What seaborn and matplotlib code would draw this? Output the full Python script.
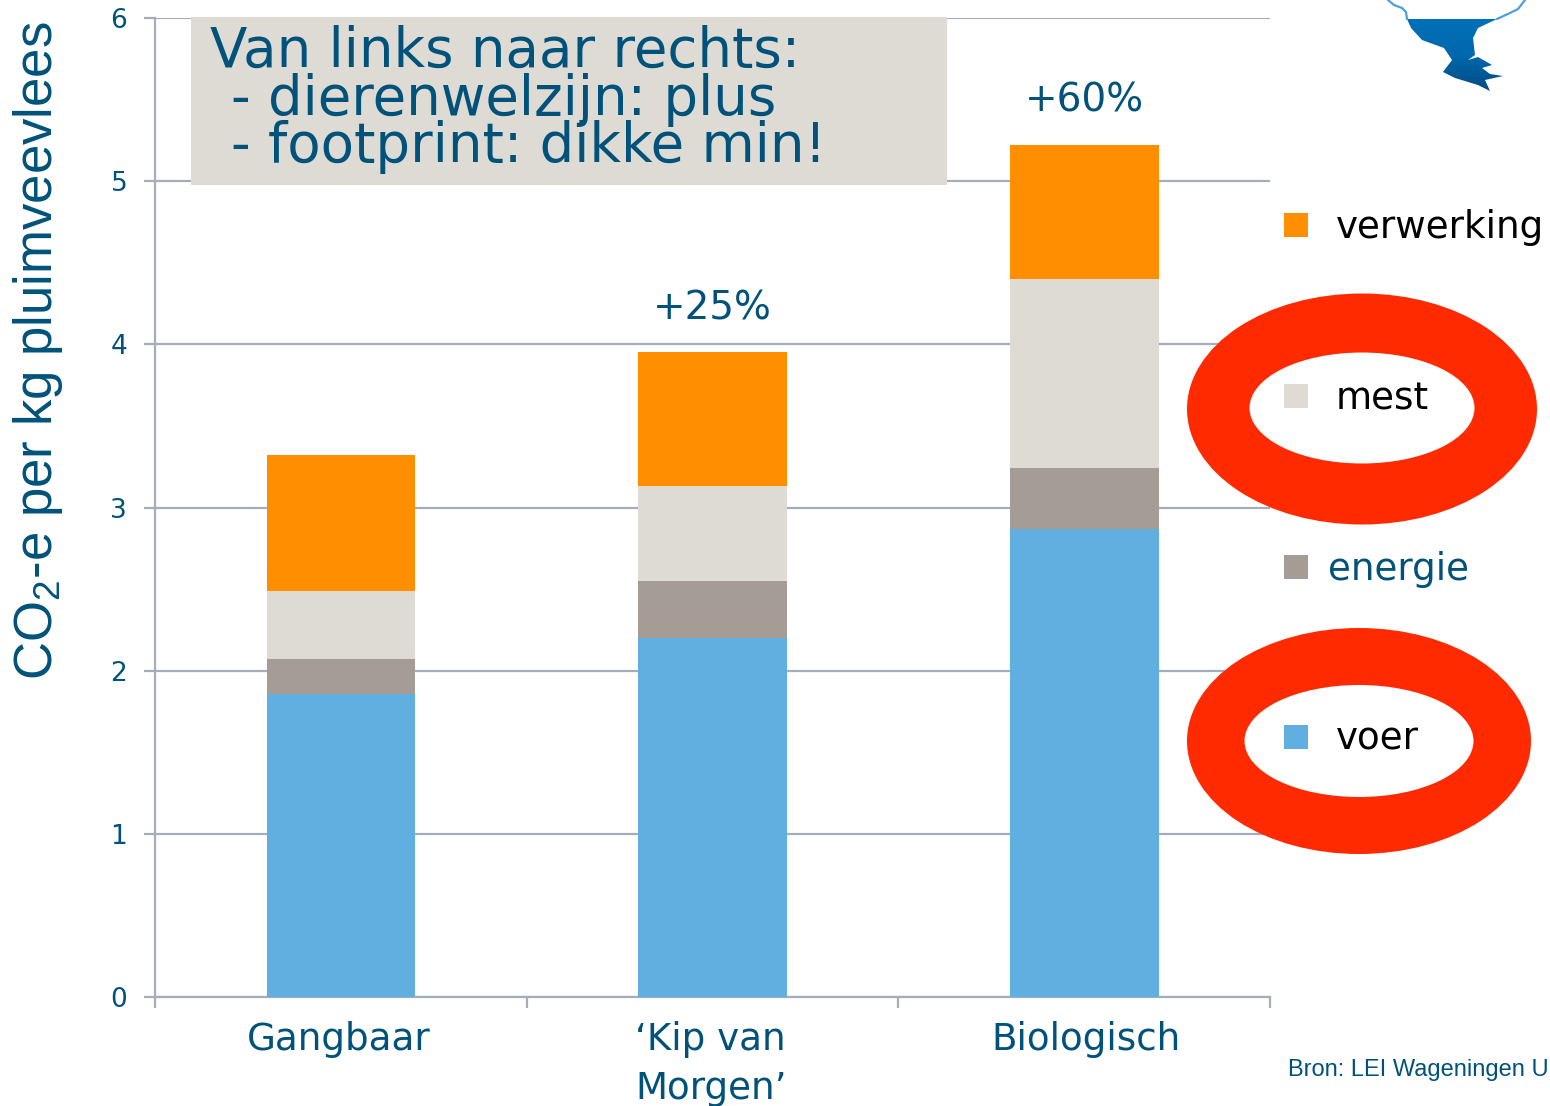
import numpy as np
import pandas as pd
import seaborn as sns
import matplotlib.pyplot as plt
from matplotlib.patches import Ellipse, Rectangle, Polygon

categories = ["Gangbaar", "‘Kip van\nMorgen’", "Biologisch"]
voer = [1.86, 2.20, 2.87]
energie = [0.21, 0.35, 0.37]
mest = [0.42, 0.58, 1.16]
verwerking = [0.83, 0.82, 0.82]
pct_labels = ["", "+25%", "+60%"]
y_ticks = [0, 1, 2, 3, 4, 5, 6]

BLUE = "#61aee0"
BROWN = "#a59c95"
LIGHT = "#dedbd4"
ORANGE = "#ff8f00"
TEAL = "#00527a"
RED = "#ff2a00"
GRID = "#a3aeba"

series = ["voer", "energie", "mest", "verwerking"]
colors = [BLUE, BROWN, LIGHT, ORANGE]

df = pd.DataFrame({"cat": categories, "voer": voer, "energie": energie,
                   "mest": mest, "verwerking": verwerking})

sns.set_theme(style="white")
plt.rcParams["font.family"] = ["DejaVu Sans"]
plt.rcParams["mathtext.fontset"] = "custom"
plt.rcParams["mathtext.rm"] = "Liberation Sans"

fig = plt.figure(figsize=(15.5, 11.06), dpi=100)
ax = fig.add_axes([155 / 1550, 1 - 997 / 1106, (1270 - 155) / 1550, (997 - 18) / 1106])

# stacked bars, one seaborn call per layer
bottom = np.zeros(len(categories))
for name, col in zip(series, colors):
    sns.barplot(data=df, x="cat", y=name, ax=ax, color=col, bottom=bottom,
                width=0.4, saturation=1, zorder=3, errorbar=None, linewidth=0)
    bottom = bottom + df[name].values

ax.set_xlim(-0.5, 2.5)
ax.set_ylim(0, 6)
ax.set_xlabel("")
ax.set_ylabel("")
ax.set_yticks(y_ticks)
ax.set_xticks([-0.5, 0.5, 1.5, 2.5])
ax.set_xticklabels([])
ax.yaxis.grid(True, color=GRID, lw=1.6, zorder=1)
ax.set_axisbelow(True)
for s in ["top", "right"]:
    ax.spines[s].set_visible(False)
for s in ["left", "bottom"]:
    ax.spines[s].set_color(GRID)
    ax.spines[s].set_linewidth(1.6)
ax.tick_params(axis="y", length=8, width=1.6, color=GRID, labelsize=19,
               labelcolor=TEAL, left=True, pad=12)
ax.tick_params(axis="x", length=8, width=1.6, color=GRID, bottom=True)

for i, lab in enumerate(categories):
    shift = 0.01 if i == 2 else 0.0
    ax.text(i - 0.005 + shift, -0.145, lab, ha="center", va="top", fontsize=26.8,
            color=TEAL, linespacing=1.41, clip_on=False)

for i, lab in enumerate(pct_labels):
    if lab:
        ax.text(i, bottom[i] + 0.155, lab, ha="center", va="bottom", fontsize=28,
                color=TEAL, zorder=5)

# overlay in pixel coordinates
ov = fig.add_axes([0, 0, 1, 1], zorder=10)
ov.patch.set_alpha(0)

# logo fragment top right
logo = ov.imshow(np.linspace(0, 1, 64).reshape(-1, 1), extent=(1400, 1510, 92, 19),
                 cmap=plt.matplotlib.colors.LinearSegmentedColormap.from_list(
                     "logo", ["#0070b8", "#0068ac", "#004a80"]), aspect="auto")
logo_shape = Polygon([(1407, 19), (1497, 19), (1478, 28), (1473, 38), (1475, 55),
                      (1468, 60), (1478, 57), (1492, 65), (1482, 68), (1490, 74),
                      (1503, 76), (1485, 80), (1490, 91), (1478, 85), (1455, 78),
                      (1443, 72), (1452, 60), (1444, 48), (1422, 40), (1411, 28)],
                     closed=True, transform=ov.transData, lw=0, fc="none")
ov.add_patch(logo_shape)
logo.set_clip_path(logo_shape)
ov.plot([1388, 1394, 1402, 1406, 1407], [0, 5, 8, 12, 19], color="#4f9fd0", lw=1.6)
ov.plot([1497, 1510, 1518, 1525], [19, 13, 9, 0], color="#4f9fd0", lw=1.6)

ov.set_xlim(0, 1550)
ov.set_ylim(1106, 0)
ov.axis("off")

ov.add_patch(Rectangle((191, 17), 756, 168, color=LIGHT, lw=0))
title_lines = [(210, 67, "Van links naar rechts:"),
               (231, 115, "- dierenwelzijn: plus"),
               (231, 162, "- footprint: dikke min!")]
for x, y, line in title_lines:
    ov.text(x, y, line, fontsize=39.3, color=TEAL, ha="left", va="baseline")

rings = [((1362, 409), (350, 231), (1362, 408), (225, 111)),
         ((1359, 741), (344, 226), (1359, 741), (229, 112))]
for c_out, s_out, c_in, s_in in rings:
    ov.add_patch(Ellipse(c_out, *s_out, color=RED, lw=0))
    ov.add_patch(Ellipse(c_in, *s_in, color="white", lw=0))

legend_rows = [(225, ORANGE, "verwerking", "black", 1336),
               (396, LIGHT, "mest", "black", 1336),
               (567, BROWN, "energie", TEAL, 1328),
               (737, BLUE, "voer", "black", 1336)]
for y, col, lab, tc, tx in legend_rows:
    ov.add_patch(Rectangle((1284, y - 12), 24, 24, color=col, lw=0))
    ov.text(tx, y + 2.5, lab, fontsize=26.8, color=tc, ha="left", va="center")

ov.text(38, 351, "CO$\\mathrm{_2}$-e per kg pluimveevlees", rotation=90, fontsize=38,
        color=TEAL, ha="center", va="center", family="Liberation Sans")
ov.text(1288, 1070, "Bron: LEI Wageningen U", fontsize=17, color=TEAL, ha="left",
        va="center", family="Liberation Sans")

fig.savefig("out.png", dpi=100)
